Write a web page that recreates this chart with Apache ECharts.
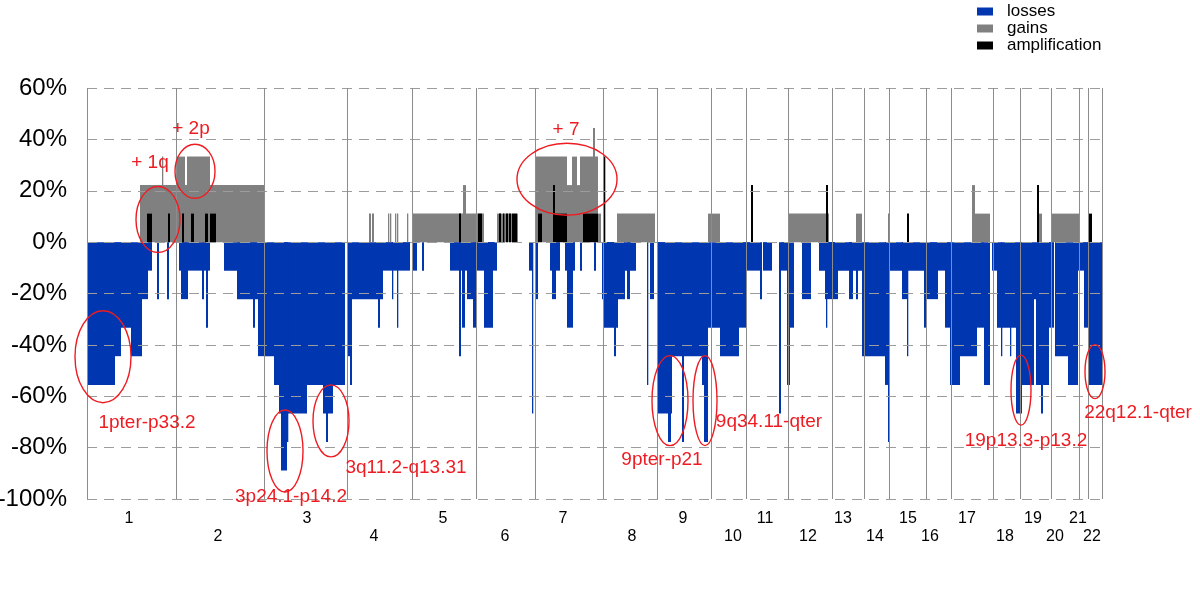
<!DOCTYPE html>
<html>
<head>
<meta charset="utf-8">
<script src="https://cdn.jsdelivr.net/npm/echarts@6/dist/echarts.min.js"></script>
<style>
html, body { margin: 0; padding: 0; background: #fff; }
#main { width: 1200px; height: 594px; }
</style>
</head>
<body>
<div id="main"></div>
<script>
// genome position runs along x in plot units; chromosome edges and label spots
var chromNames = ['1','2','3','4','5','6','7','8','9','10','11','12','13','14','15','16','17','18','19','20','21','22'];
var chromBounds = [87,176,264,347,412,476,535,603,657,711,746,788,832,864,889,926,951,993,1020,1051,1079,1088,1102];
var chromLabelAt = [129,218,307,374,443,505,563,632,683,733,765,808,843,875,908,930,967,1005,1033,1055,1078,1092];

// segments: [start, end, % of cases]
var losses = [
    [87,115,-55.6],[115,121,-44.4],[121,131,-33.3],[131,142,-44.4],[142,148,-22.2],[148,152,-11.1],[157,159,-22.2],[167,169,-22.2],
    [179,210,-11.1],[181,188,-22.2],[202,204,-22.2],[206,208,-33.3],[224,258,-11.1],[237,258,-22.2],[253,255,-33.3],[258,264,-44.4],
    [264,275,-44.4],[274,279,-55.6],[279,307,-66.7],[281,287,-88.9],[287,288,-77.8],[307,323,-55.6],[323,333,-66.7],[326,328,-77.8],[333,345,-55.6],
    [348,352,-44.4],[350,352,-55.6],[352,383,-22.2],[378,380,-33.3],[383,410,-11.1],[392,393,-22.2],[397,398,-33.3],
    [412,417,-11.1],[422,424,-11.1],[450,467,-11.1],[459,461,-44.4],[462,465,-33.3],[467,476,-22.2],[473,476,-33.3],
    [476,497,-11.1],[484,493,-33.3],[529,532,-11.1],[532,533,-66.7],
    [535,538,-22.2],[550,560,-11.1],[552,556,-22.2],[565,575,-11.1],[567,573,-33.3],[580,582,-11.1],[594,596,-11.1],
    [602,636,-11.1],[602,625,-22.2],[604,618,-33.3],[614,616,-44.4],[627,630,-22.2],[647,648,-55.6],[650,654,-22.2],
    [657,708,-44.4],[658,672,-66.7],[668,671,-77.8],[682,684,-77.8],[702,704,-55.6],[704,708,-77.8],[708,720,-33.3],
    [720,739,-44.4],[739,746,-33.3],
    [746,760,-11.1],[760,762,-22.2],[763,772,-11.1],[779,781,-66.7],[781,787,-11.1],[787,790,-55.6],
    [790,794,-33.3],[802,811,-22.2],[819,862,-11.1],[825,838,-22.2],[826,827,-33.3],[849,853,-22.2],[856,858,-22.2],
    [862,888,-44.4],[885,888,-55.6],[888,889,-77.8],
    [889,926,-11.1],[902,908,-22.2],[907,908,-44.4],[924,938,-22.2],[924,927,-33.3],
    [938,945,-11.1],[945,950,-33.3],[950,960,-55.6],
    [960,977,-44.4],[977,984,-33.3],[984,990,-55.6],
    [992,997,-11.1],[997,1016,-33.3],[1001,1002,-44.4],[1010,1011,-44.4],[1016,1022,-66.7],
    [1022,1034,-55.6],[1034,1036,-22.2],[1036,1049,-55.6],[1041,1043,-66.7],
    [1049,1054,-33.3],[1055,1068,-44.4],[1068,1078,-55.6],[1078,1084,-11.1],[1084,1088,-33.3],[1088,1102,-55.6]
];
var gains = [
    [140,264,22.2],[162,163,33.3],[177,185,33.3],[187,210,33.3],
    [369,371,11.1],[372,374,11.1],[388,389,11.1],[390,391,11.1],[395,396,11.1],[397,398,11.1],[407,408,11.1],
    [412,484,11.1],[463,466,22.2],
    [497,518,11.1],
    [535,567,33.3],[567,572,22.2],[572,577,33.3],[577,580,22.2],[580,598,33.3],[593,595,44.4],[598,601,11.1],
    [617,655,11.1],[708,720,11.1],[788,829,11.1],[856,862,11.1],[888,889,11.1],
    [972,975,22.2],[975,990,11.1],[1039,1042,11.1],[1051,1080,11.1]
];
var amplification = [
    [147,152,11.1],[168,170,11.1],[182,184,11.1],[191,194,11.1],[205,208,11.1],[210,216,11.1],
    [459,461,11.1],[478,482,11.1],
    [499,501,11.1],[503,504,11.1],[506,508,11.1],[509,511,11.1],[512,517,11.1],
    [538,542,11.1],[553,555,22.2],[555,567,11.1],[583,598,11.1],[604,605,33.3],
    [751,753,22.2],[826,828,22.2],[907,909,11.1],[1037,1039,22.2],[1089,1092,11.1]
];

// red notes: text and where it sits (x, %)
var noteTexts = ['1pter-p33.2','+ 1q','+ 2p','3p24.1-p14.2','3q11.2-q13.31','+ 7','9pter-p21','9q34.11-qter','19p13.3-p13.2','22q12.1-qter'];
var notePos = [[147,-70.5],[150,30.8],[191,44.0],[291,-99.0],[406,-87.8],[566,43.6],[662,-84.9],[769,-69.9],[1026,-77.3],[1138,-66.6]];
// circled regions: centre (x, %)
var ringPos = [[103,-44.6],[158,8.8],[195,27.6],[285,-81.3],[331,-69.6],[567,24.5],[670,-61.7],[705,-61.7],[1021,-57.6],[1095,-50.4]];
var ringRadius = [[28,46],[22,33],[20,27],[18,41],[18,36],[50,36],[18,45],[12,45],[10,35],[10,27]];

var FONT = '"Liberation Sans", Arial, sans-serif';
var RED = '#ee1c22';

// odd chromosomes labelled on the upper row, even ones on the lower row
var oddLabelAt = chromLabelAt.filter(function (v, i) { return i % 2 === 0; });
var evenLabelAt = chromLabelAt.filter(function (v, i) { return i % 2 === 1; });

function stepBars(params, api) {
    var a = api.coord([api.value(0), 0]);
    var b = api.coord([api.value(1), api.value(2)]);
    var w = Math.max(b[0] - a[0], 1.3);
    return {
        type: 'rect',
        shape: { x: a[0], y: Math.min(a[1], b[1]), width: w, height: Math.abs(b[1] - a[1]) },
        style: { fill: api.visual('color') }
    };
}

function chromLine(params, api) {
    var top = api.coord([api.value(0), 60]);
    var bot = api.coord([api.value(0), -100]);
    var x = Math.round(top[0]) + 0.5;
    return {
        type: 'line',
        shape: { x1: x, y1: top[1], x2: x, y2: bot[1] },
        style: { stroke: '#8c8c8c', lineWidth: 1 }
    };
}

function chromLabel(v) {
    var best = 0;
    for (var i = 1; i < chromLabelAt.length; i++) {
        if (Math.abs(chromLabelAt[i] - v) < Math.abs(chromLabelAt[best] - v)) best = i;
    }
    return chromNames[best];
}

function labelAxis(values, margin, ticks) {
    return {
        type: 'value',
        min: 87,
        max: 1102,
        position: 'bottom',
        axisLine: { show: false },
        splitLine: { show: false },
        axisTick: ticks ? { customValues: chromBounds, length: 4, lineStyle: { color: '#8c8c8c' } } : { show: false },
        axisLabel: {
            customValues: values,
            hideOverlap: false,
            fontSize: 16,
            color: '#000',
            margin: margin,
            formatter: chromLabel
        }
    };
}

var chart = echarts.init(document.getElementById('main'), null, { renderer: 'canvas' });

var option = {
    animation: false,
    textStyle: { fontFamily: FONT },
    grid: { left: 87, right: 98, top: 88, bottom: 95, outerBoundsMode: 'none', containLabel: false },
    legend: {
        data: ['losses', 'gains', 'amplification'],
        orient: 'vertical',
        left: 972,
        top: 0,
        padding: [3, 5, 3, 5],
        icon: 'rect',
        itemWidth: 16,
        itemHeight: 8,
        itemGap: 0,
        textStyle: { fontSize: 17, color: '#000', fontFamily: FONT, lineHeight: 15, padding: [0, 0, 0, 9] }
    },
    xAxis: [labelAxis(oddLabelAt, 12, true), labelAxis(evenLabelAt, 30, false)],
    yAxis: {
        type: 'value',
        min: -100,
        max: 60,
        interval: 20,
        z: 4,
        axisLine: { show: false },
        axisTick: { show: false },
        axisLabel: { formatter: '{value}%', fontSize: 24, color: '#000', margin: 20 },
        splitLine: { lineStyle: { color: '#9c9c9c', width: 1, type: [10, 7] } }
    },
    series: [
        {
            name: 'losses', type: 'custom', renderItem: stepBars, clip: true,
            itemStyle: { color: '#0036b0' }, encode: { x: [0, 1], y: 2 }, data: losses, z: 2
        },
        {
            name: 'gains', type: 'custom', renderItem: stepBars, clip: true,
            itemStyle: { color: '#808080' }, encode: { x: [0, 1], y: 2 }, data: gains, z: 2
        },
        {
            name: 'amplification', type: 'custom', renderItem: stepBars, clip: true,
            itemStyle: { color: '#000000' }, encode: { x: [0, 1], y: 2 }, data: amplification, z: 3
        },
        {
            name: 'chromosomes', type: 'custom', renderItem: chromLine, silent: true,
            encode: { x: 0 }, data: chromBounds.map(function (b) { return [b]; }), z: 5
        }
    ]
};

chart.setOption(option);

var marks = [];
ringPos.forEach(function (p, i) {
    var c = chart.convertToPixel({ gridIndex: 0 }, p);
    marks.push({
        type: 'ellipse',
        shape: { cx: c[0], cy: c[1], rx: ringRadius[i][0], ry: ringRadius[i][1] },
        style: { fill: 'none', stroke: RED, lineWidth: 1.4 },
        z: 20, silent: true
    });
});
noteTexts.forEach(function (t, i) {
    var c = chart.convertToPixel({ gridIndex: 0 }, notePos[i]);
    marks.push({
        type: 'text',
        x: c[0], y: c[1],
        style: { text: t, fill: RED, fontSize: 19, fontFamily: FONT, align: 'center', verticalAlign: 'middle', textAlign: 'center', textVerticalAlign: 'middle' },
        z: 21, silent: true
    });
});
chart.setOption({ graphic: marks });
</script>
</body>
</html>
